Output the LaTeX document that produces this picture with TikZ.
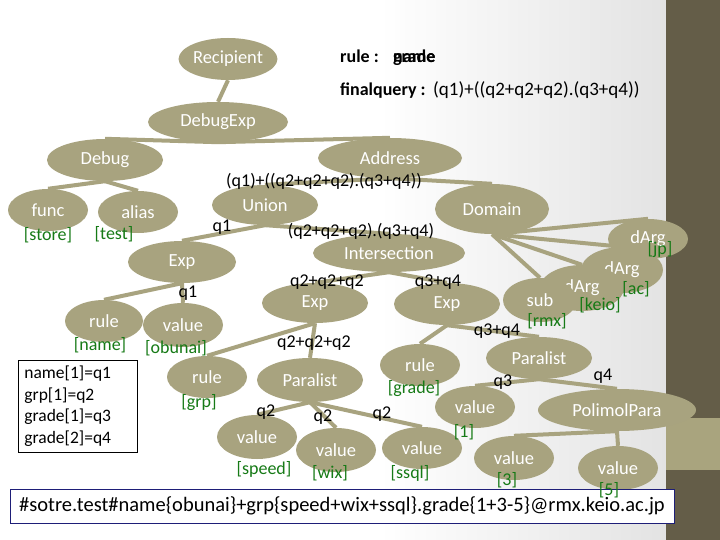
\documentclass[tikz,border=0pt]{standalone}
\usepackage{fontspec}
\setmainfont{Carlito}
\usetikzlibrary{shapes.geometric}
\definecolor{nodefill}{RGB}{168,163,127}
\definecolor{barDark}{RGB}{100,93,72}
\definecolor{barLight}{RGB}{169,164,126}
\definecolor{labgreen}{RGB}{22,122,22}
\definecolor{boxblue}{RGB}{30,30,120}
\pgfdeclarelayer{bg}
\pgfdeclarelayer{edges}
\pgfsetlayers{bg,edges,main}
\begin{document}
\begin{tikzpicture}[x=1pt,y=-1pt,
  ell/.style={ellipse, fill=nodefill, text=white, inner sep=0pt, font=\fontsize{18.5}{18.5}\selectfont},
  sz/.style 2 args={minimum width=#1, minimum height=#2},
  glab/.style={text=labgreen, inner sep=0pt, font=\fontsize{18}{18}\selectfont},
  elab/.style={text=black, inner sep=0pt, font=\fontsize{18}{18}\selectfont},
  conn/.style={draw=nodefill, line width=4pt},
  toptext/.style={inner sep=0pt, anchor=west, font=\fontsize{18}{18}\selectfont}
]
\useasboundingbox (0,0) rectangle (720,540);
\begin{pgfonlayer}{bg}
  \fill[white] (0,0) rectangle (380,540);
  \shade[left color=white, right color=black!11] (379,0) rectangle (667,540);
  \fill[barDark] (666,0) rectangle (720,540);
  \fill[barLight] (666,418) rectangle (720,470);
\end{pgfonlayer}

% top texts
\node[toptext, font=\fontsize{18}{18}\selectfont\bfseries] (rulelab) at (340,56) {rule :};
\node[toptext, font=\fontsize{18}{18}\selectfont\bfseries] (rname) at (393,58) {name};
\node[toptext, font=\fontsize{18}{18}\selectfont\bfseries] (rgrade) at (393,58) {grade};
\node[toptext, font=\fontsize{18}{18}\selectfont\bfseries] (fq) at (340,91) {finalquery :};
\node[toptext, font=\fontsize{19}{19}\selectfont] (fqv) at (433,90) {(q1)+((q2+q2+q2).(q3+q4))};

% nodes
\node[ell, sz={94}{42}] (recip) at (228,59) {Recipient};
\node[ell, sz={140}{40}] (dexp) at (218,122) {DebugExp};
\node[ell, sz={116}{42}] (debug) at (105,160) {Debug};
\node[ell, sz={144}{40}] (addr) at (390,158) {Address};
\node[ell, sz={80}{42}] (func) at (48,210) {func};
\node[ell, sz={80}{42}] (alias) at (138,212) {alias};
\node[ell, sz={106}{40}] (union) at (265,205) {Union};
\node[ell, sz={114}{50}] (domain) at (492,209) {Domain};
\node[ell, sz={152}{38}] (inter) at (389,253) {Intersection};
\node[ell, sz={108}{42}] (expl) at (182,262) {Exp};
\node[ell, sz={78}{42}] (rulename) at (104,321) {rule};
\node[ell, sz={80}{44}] (valob) at (183,325) {value};
\node[ell, sz={106}{40}] (expm) at (315,303) {Exp};
\node[ell, sz={106}{42}] (expr) at (447,304) {Exp};
\node[ell, sz={80}{42}] (rulegrp) at (207,377) {rule};
\node[ell, sz={106}{44}] (paral) at (310,380) {Paralist};
\node[ell, sz={80}{42}] (rulegrade) at (420,365) {rule};
\node[ell, sz={106}{42}] (parar) at (539,358) {Paralist};
\node[ell, sz={80}{44}] (valspeed) at (257,437) {value};
\node[ell, sz={80}{44}] (valwix) at (336,450) {value};
\node[ell, sz={80}{42}] (valssql) at (422,448) {value};
\node[ell, sz={80}{42}] (valone) at (475,407) {value};
\node[ell, sz={158}{42}] (polimol) at (617,410) {PolimolPara};
\node[ell, sz={80}{44}] (valthree) at (514,458) {value};
\node[ell, sz={80}{44}] (valfive) at (618,468) {value};
\node[ell, sz={80}{40}] (dargjp) at (648,239) {dArg};
\node[ell, sz={82}{46}] (dargac) at (622,270) {dArg};
\node[ell, sz={84}{46}] (dargkeio) at (582,288) {dArg};
\node[ell, sz={74}{44}] (sub) at (540,300) {sub};

% connectors
\begin{pgfonlayer}{edges}
  \draw[conn] (recip.south) -- (dexp.north);
  \draw[conn] (dexp.south) -- (debug.north);
  \draw[conn] (dexp.south) -- (addr.north);
  \draw[conn] (debug.south) -- (func.north);
  \draw[conn] (debug.south) -- (alias.north);
  \draw[conn] (addr.south) -- (union.north);
  \draw[conn] (addr.south) -- (domain.north);
  \draw[conn] (union.south) -- (expl.north);
  \draw[conn] (union.south) -- (inter.north);
  \draw[conn] (domain.south) -- (dargjp.north);
  \draw[conn] (domain.south) -- (dargac.north);
  \draw[conn] (domain.south) -- (dargkeio.north);
  \draw[conn] (domain.south) -- (sub.north);
  \draw[conn] (inter.south) -- (expm.north);
  \draw[conn] (inter.south) -- (expr.north);
  \draw[conn] (expl.south) -- (rulename.north);
  \draw[conn] (expl.south) -- (valob.north);
  \draw[conn] (expm.south) -- (rulegrp.north);
  \draw[conn] (expm.south) -- (paral.north);
  \draw[conn] (expr.south) -- (rulegrade.north);
  \draw[conn] (expr.south) -- (parar.north);
  \draw[conn] (paral.south) -- (valspeed.north);
  \draw[conn] (paral.south) -- (valwix.north);
  \draw[conn] (paral.south) -- (valssql.north);
  \draw[conn] (parar.south) -- (valone.north);
  \draw[conn] (parar.south) -- (polimol.north);
  \draw[conn] (polimol.south) -- (valthree.north);
  \draw[conn] (polimol.south) -- (valfive.north);
\end{pgfonlayer}

% edge labels
\node[elab] (l1) at (324,181) {(q1)+((q2+q2+q2).(q3+q4))};
\node[elab] (l2) at (222,227) {q1};
\node[elab] (l3) at (361,231) {(q2+q2+q2).(q3+q4)};
\node[elab] (l4) at (327,282) {q2+q2+q2};
\node[elab] (l5) at (438,282) {q3+q4};
\node[elab] (l6) at (188,293) {q1};
\node[elab] (l7) at (314,343) {q2+q2+q2};
\node[elab] (l8) at (497,331) {q3+q4};
\node[elab] (l9) at (503,382) {q3};
\node[elab] (l10) at (603,376) {q4};
\node[elab] (l11) at (266,412) {q2};
\node[elab] (l12) at (323,417) {q2};
\node[elab] (l13) at (382,414) {q2};

% green labels
\node[glab] (g1) at (48,235) {[store]};
\node[glab] (g2) at (114,234) {[test]};
\node[glab] (g3) at (100,345) {[name]};
\node[glab] (g4) at (176,348) {[obunai]};
\node[glab] (g5) at (199,403) {[grp]};
\node[glab] (g6) at (414,389) {[grade]};
\node[glab] (g7) at (264,469) {[speed]};
\node[glab] (g8) at (330,473) {[wix]};
\node[glab] (g9) at (410,473) {[ssql]};
\node[glab] (g10) at (464,432) {[1]};
\node[glab] (g11) at (507,480) {[3]};
\node[glab] (g13) at (547,321) {[rmx]};
\node[glab] (g14) at (600,305) {[keio]};
\node[glab] (g15) at (636,289) {[ac]};
\node[glab] (g16) at (660,250) {[jp]};

% left box
\node[draw=black, fill=white, line width=0.8pt, align=left, anchor=north west,
      text width=107, minimum height=92, inner xsep=6pt, inner ysep=4pt,
      font=\fontsize{17.5}{21.5}\selectfont] (mapbox) at (18,360)
  {name[1]=q1\\grp[1]=q2\\grade[1]=q3\\grade[2]=q4};

% bottom box
\node[draw=boxblue, fill=white, line width=1pt, minimum width=664, minimum height=34,
      inner sep=0pt, font=\fontsize{20.5}{20.5}\selectfont] (query) at (342,506)
  {\#sotre.test\#name\{obunai\}+grp\{speed+wix+ssql\}.grade\{1+3-5\}@rmx.keio.ac.jp};
\node[glab] (g12) at (609,490) {[5]};
\end{tikzpicture}
\end{document}
